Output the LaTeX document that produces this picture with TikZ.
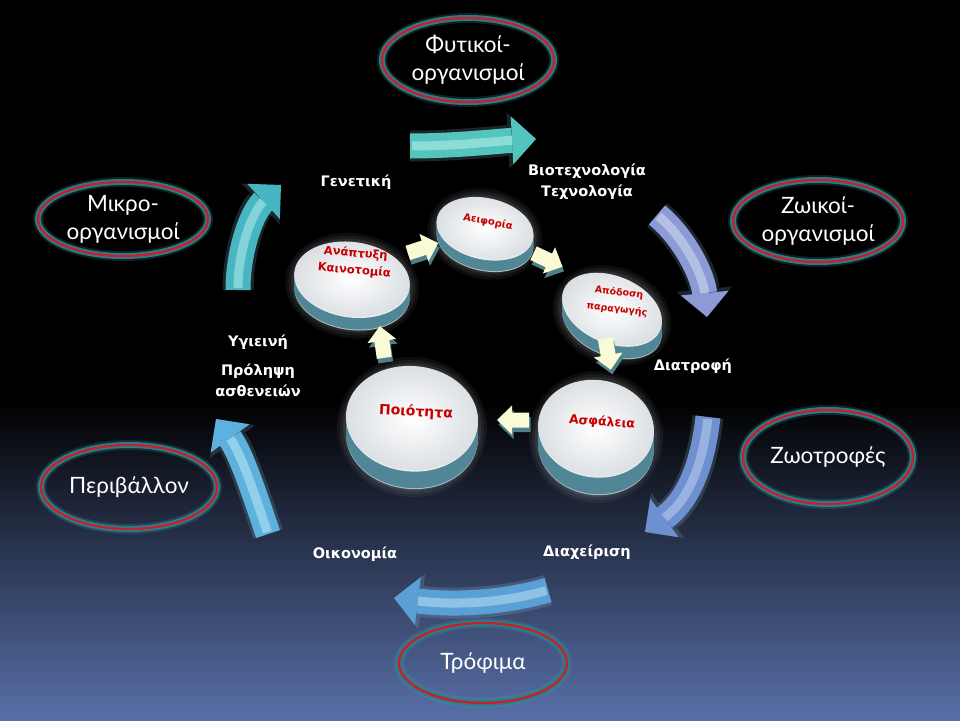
\documentclass[tikz,border=0pt]{standalone}
\usepackage{fontspec}
\setmainfont{Lato}
\newfontfamily\ringfam{Lato}
\newfontfamily\labfam{DejaVu Sans}
\usetikzlibrary{shapes.geometric,arrows.meta,calc}

\definecolor{ringred}{RGB}{200,32,42}
\definecolor{ringteal}{RGB}{38,128,140}
\definecolor{ringglow}{RGB}{60,170,185}
\definecolor{discred}{RGB}{200,0,0}
\definecolor{cream}{RGB}{250,250,212}
\definecolor{creamside}{RGB}{78,128,140}
\definecolor{bandteal}{RGB}{80,134,150}
\definecolor{rimgray}{RGB}{175,192,198}
\definecolor{facegray}{RGB}{218,222,226}
\definecolor{bgbot}{RGB}{88,112,168}
\definecolor{bgmid}{RGB}{35,45,72}
% big arrow colours
\definecolor{tealA}{RGB}{84,196,190}
\definecolor{tealAl}{RGB}{180,236,230}
\definecolor{tealB}{RGB}{72,182,192}
\definecolor{tealBl}{RGB}{172,230,236}
\definecolor{lavA}{RGB}{140,154,214}
\definecolor{lavAl}{RGB}{208,216,242}
\definecolor{bluA}{RGB}{110,144,208}
\definecolor{bluAl}{RGB}{182,202,238}
\definecolor{skyA}{RGB}{90,160,214}
\definecolor{skyAl}{RGB}{180,218,242}
\definecolor{skyB}{RGB}{92,178,220}
\definecolor{skyBl}{RGB}{180,228,242}
\definecolor{glowc}{RGB}{170,225,245}

\newcommand{\mydisc}[6]{% x, y, rx, ry, rot, depth
  \foreach \g/\o in {9/.05,6/.06,3/.08}{%
    \fill[white, opacity=\o, shift={(#1,#2+#6*0.5)}, rotate=#5] (0,0) ellipse[x radius=#3+\g, y radius=#4+#6*0.5+\g];}
  \fill[rimgray, shift={(#1,#2+#6+1)}, rotate=#5] (0,0) ellipse[x radius=#3, y radius=#4];
  \foreach \k in {#6,...,2}{\fill[bandteal, shift={(#1,#2+\k)}, rotate=#5] (0,0) ellipse[x radius=#3, y radius=#4];}
  \fill[white!85!bandteal, shift={(#1,#2+1.5)}, rotate=#5] (0,0) ellipse[x radius=#3, y radius=#4];
  \shade[inner color=white, outer color=facegray, shift={(#1,#2)}, rotate=#5] (0,0) ellipse[x radius=#3, y radius=#4];
}

\newcommand{\bigarrow}[7]{% start, c1, c2, end, main, light, glow
  \draw[line width=31pt, draw=#7, opacity=0.16, -{Triangle[width=56pt,length=28pt,line width=0pt]}] (#1) .. controls (#2) and (#3) .. (#4);
  \draw[line width=25pt, draw=#5, -{Triangle[width=48pt,length=24pt,line width=0pt]}] (#1) .. controls (#2) and (#3) .. (#4);
  \draw[line width=9pt, draw=#6, opacity=0.6, shorten >=24pt, shorten <=2pt] (#1) .. controls (#2) and (#3) .. (#4);
}

\newcommand{\smallarr}[3]{% x, y, rot
  \fill[creamside, shift={(#1+1.5,#2+4.5)}, rotate=#3] (-16,-7.5) -- (1,-7.5) -- (1,-14.5) -- (16,0) -- (1,14.5) -- (1,7.5) -- (-16,7.5) -- cycle;
  \fill[cream, shift={(#1,#2)}, rotate=#3] (-16,-7.5) -- (1,-7.5) -- (1,-14.5) -- (16,0) -- (1,14.5) -- (1,7.5) -- (-16,7.5) -- cycle;
}

\tikzset{
  ring/.style={ellipse, inner sep=0pt, text=white, align=center,
    font=\ringfam\fontsize{22.5}{28}\selectfont,
    preaction={draw=ringglow, line width=10pt, draw opacity=0.2},
    preaction={draw=ringteal, line width=6pt},
    draw=ringred, line width=2.4pt},
  lab/.style={text=white, align=center, inner sep=1pt,
    font=\labfam\bfseries\fontsize{14.5}{21}\selectfont},
  disctxt/.style={text=discred, align=center, inner sep=0pt}
}

\begin{document}
\begin{tikzpicture}[x=1pt,y=-1pt]
\useasboundingbox (0,0) rectangle (960,720);
% background
\fill[black] (0,0) rectangle (960,720);
\shade[top color=black, middle color=bgmid, bottom color=bgbot] (0,400) rectangle (960,720);

% big arrow end points
\coordinate (a1s) at (410,146); \coordinate (a1e) at (536,139);
\coordinate (a2s) at (657,215); \coordinate (a2e) at (707,317);
\coordinate (a3s) at (708,417); \coordinate (a3e) at (645,532);
\coordinate (a4s) at (548,590); \coordinate (a4e) at (394,598);
\coordinate (a5s) at (268,534); \coordinate (a5e) at (216,419);
\coordinate (a6s) at (238,290); \coordinate (a6e) at (281,185);

\bigarrow{a1s}{455,146}{500,141}{a1e}{tealA}{tealAl}{glowc}
\bigarrow{a2s}{685,238}{703,276}{a2e}{lavA}{lavAl}{glowc}
\bigarrow{a3s}{702,470}{686,502}{a3e}{bluA}{bluAl}{glowc}
\bigarrow{a4s}{500,604}{450,605}{a4e}{skyA}{skyAl}{glowc}
\bigarrow{a5s}{252,486}{240,452}{a5e}{skyB}{skyBl}{glowc}
\bigarrow{a6s}{238,250}{252,212}{a6e}{tealB}{tealBl}{glowc}

% outer ellipses
\node[ring, minimum width=172pt, minimum height=84pt] (phyt) at (468,60) {Φυτικοί-\\οργανισμοί};
\node[ring, minimum width=170pt, minimum height=74pt] (mikro) at (123,219) {Μικρο-\\οργανισμοί};
\node[ring, minimum width=170pt, minimum height=82pt] (zoik) at (818,221) {Ζωικοί-\\οργανισμοί};
\node[ring, minimum width=170pt, minimum height=94pt] (zootr) at (828,457) {Ζωοτροφές};
\node[ring, minimum width=176pt, minimum height=84pt] (perib) at (129,487) {Περιβάλλον};
\node[ring, minimum width=168pt, minimum height=80pt] (trof) at (483,663) {Τρόφιμα};

% labels
\node[lab] (gen) at (356,182) {Γενετική};
\node[lab] (bio) at (587,182) {Βιοτεχνολογία\\Τεχνολογία};
\node[lab] (diat) at (693,366) {Διατροφή};
\node[lab] (diax) at (587,552) {Διαχείριση};
\node[lab] (oik) at (355,554) {Οικονομία};
\node[lab] (ygi) at (258,342) {Υγιεινή};
\node[lab] (prol) at (258,380) {Πρόληψη\\ασθενειών};

% discs
\mydisc{485}{228}{49}{30}{-12}{12}
\mydisc{352}{279}{58}{37}{-8}{13}
\mydisc{612}{309}{52}{33}{-22}{13}
\mydisc{412}{418}{66}{52}{-5}{18}
\mydisc{596}{428}{58}{48}{-8}{18}

% disc texts
\node[disctxt, rotate=-10, font=\labfam\bfseries\fontsize{10}{12}\selectfont] (aeif) at (488,222) {Αειφορία};
\node[disctxt, rotate=-5, font=\labfam\bfseries\fontsize{11.5}{17}\selectfont] (anapt) at (355,262) {Ανάπτυξη\\Καινοτομία};
\node[disctxt, rotate=-7, font=\labfam\bfseries\fontsize{9.5}{17}\selectfont] (apod) at (618,301) {Απόδοση\\παραγωγής};
\node[disctxt, rotate=-3, font=\labfam\bfseries\fontsize{14}{16}\selectfont] (poiot) at (416,412) {Ποιότητα};
\node[disctxt, rotate=-4, font=\labfam\bfseries\fontsize{12.5}{14}\selectfont] (asfal) at (602,422) {Ασφάλεια};

% small block arrows between discs
\smallarr{423}{248}{18}
\smallarr{548}{260}{-25}
\smallarr{608}{354}{-80}
\smallarr{513}{420}{180}
\smallarr{382}{342}{98}
\end{tikzpicture}
\end{document}
